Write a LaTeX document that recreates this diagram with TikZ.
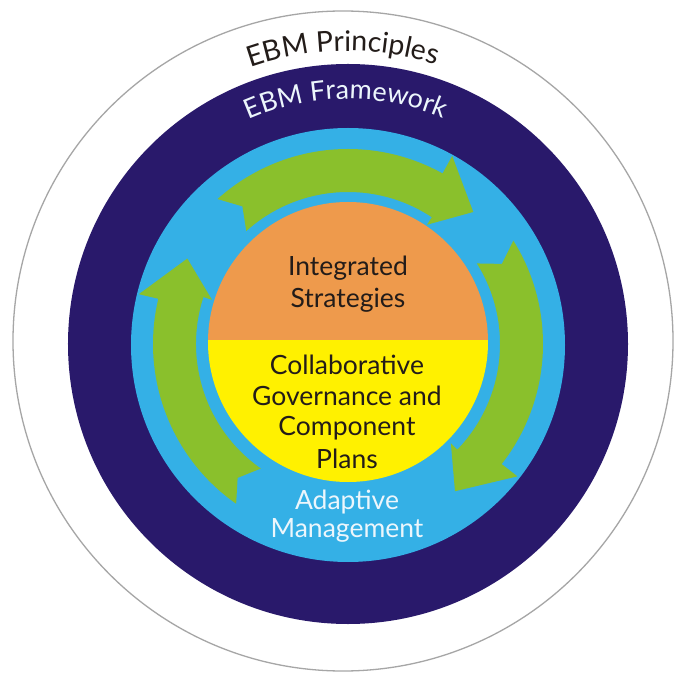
\documentclass[tikz,border=0pt]{standalone}
\usepackage{fontspec}
\setmainfont{Lato}
\usetikzlibrary{decorations.text}
\definecolor{navy}{RGB}{41,25,107}
\definecolor{skyb}{RGB}{52,176,230}
\definecolor{leaf}{RGB}{138,192,44}
\definecolor{orng}{RGB}{238,154,76}
\definecolor{yelo}{RGB}{255,241,0}
\definecolor{ink}{RGB}{35,28,25}
\definecolor{pale}{RGB}{236,246,252}
\newcommand{\greenarrow}[4]{%
  \fill[leaf] (#1:195) arc[start angle=#1, end angle=#2, radius=195]
    -- (#2:215) -- (#4:182) -- (#3:143) -- (#3:152)
    arc[start angle=#3, end angle=#1, radius=152]
    -- ({#1-4.5}:173.5) -- cycle;}
\begin{document}
\begin{tikzpicture}[x=1pt,y=1pt,
  darktext/.style={font=\fontsize{26.5}{30}\selectfont, inner sep=0pt, anchor=base, text=ink},
  lighttext/.style={font=\fontsize{26.5}{30}\selectfont, inner sep=0pt, anchor=base, text=pale}]
\useasboundingbox (-348,-335) rectangle (326,344);
\fill[white] (-348,-335) rectangle (326,344);
\draw[gray!70, line width=1.3pt, fill=white] (-5,3) circle[radius=330];
\fill[navy] (0,0) circle[radius=280];
\fill[skyb] (0,-1) circle[radius=217];
% cycle arrows
\greenarrow{132}{61}{56.5}{46.5}
\greenarrow{32}{-38}{-44}{-54}
\greenarrow{235}{166.6}{162}{152}
% inner disc
\begin{scope}
  \clip (0,2) circle[radius=140];
  \fill[orng] (-141,4) rectangle (141,143);
  \fill[yelo] (-141,4) rectangle (141,-139);
\end{scope}
% curved titles
\path[decorate, decoration={text along path, text align=center, text color=ink,
  text={|\fontsize{28.5}{32}\selectfont|EBM Principles}}]
  (131:293) arc[start angle=131, end angle=51, radius=293];
\path[decorate, decoration={text along path, text align=center, text color=pale,
  text={|\fontsize{27}{32}\selectfont|EBM Framework}}]
  (130.5:245) arc[start angle=130.5, end angle=50.5, radius=245];
% texts
\node[darktext] (is1) at (0,68) {Integrated};
\node[darktext] (is2) at (0,36) {Strategies};
\node[darktext] (cg1) at (-1,-31) {Collaborative};
\node[darktext] (cg2) at (-1,-62) {Governance and};
\node[darktext] (cg3) at (-1,-92) {Component};
\node[darktext] (cg4) at (-1,-124) {Plans};
\node[lighttext] (am1) at (-1,-165) {Adaptive};
\node[lighttext] (am2) at (-1,-193) {Management};
\end{tikzpicture}
\end{document}
